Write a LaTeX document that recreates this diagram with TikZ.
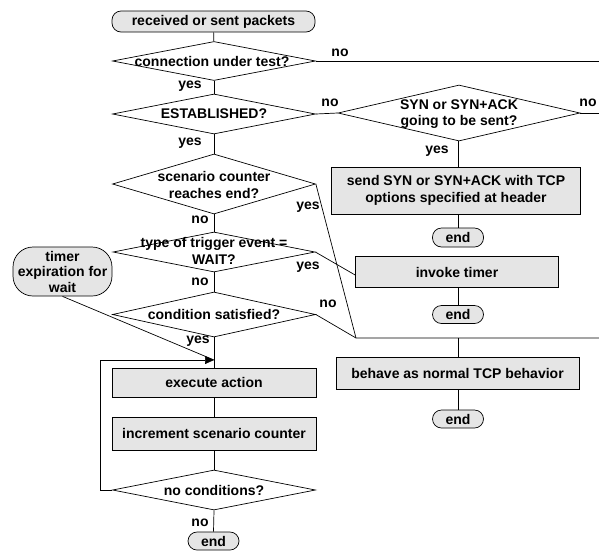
\documentclass[tikz,border=0pt]{standalone}
\usepackage{fontspec}
\setmainfont{Liberation Sans}
\usetikzlibrary{shapes.geometric,arrows.meta}
\begin{document}
\begin{tikzpicture}[x=1pt,y=-1pt,
  every node/.style={font=\fontsize{14}{16.5}\selectfont\bfseries},
  dia/.style={draw, diamond, inner sep=0pt, fill=white, line width=0.7pt},
  txt/.style={inner sep=0pt, align=center},
  box/.style={draw, fill=black!10, inner sep=0pt, align=center, line width=0.7pt},
  term/.style={draw, fill=black!10, rounded corners=9pt, inner sep=0pt, align=center, line width=0.7pt},
  lbl/.style={inner sep=0pt},
  conn/.style={line width=0.7pt}]
\useasboundingbox (0,0) rectangle (599,550);

% main column
\node[term, minimum width=203pt, minimum height=21pt] (start) at (213.5,21.5) {received or sent packets};
\node[dia, minimum width=203pt, minimum height=39pt] (d1) at (214,61) {};
\node[txt] (d1t) at (212,61) {connection under test?};
\node[dia, minimum width=203pt, minimum height=40pt] (d2) at (214,114) {};
\node[txt] (d2t) at (214,114) {ESTABLISHED?};
\node[dia, minimum width=203pt, minimum height=60pt] (d3) at (214,184) {};
\node[txt] (d3t) at (214,185) {scenario counter\\reaches end?};
\node[dia, minimum width=202pt, minimum height=40pt] (d4) at (214,252) {};
\node[txt] (d4t) at (214,251) {type of trigger event =\\WAIT?};
\node[dia, minimum width=203pt, minimum height=45pt] (d5) at (214,314.5) {};
\node[txt] (d5t) at (214,314.5) {condition satisfied?};
\node[box, minimum width=204pt, minimum height=29pt] (exec) at (214,382.5) {execute action};
\node[box, minimum width=204pt, minimum height=33pt] (incr) at (214,433.5) {increment scenario counter};
\node[dia, minimum width=203pt, minimum height=40pt] (d6) at (214,490) {};
\node[txt] (d6t) at (214,490) {no conditions?};
\node[term, minimum width=51pt, minimum height=18pt] (endm) at (213.5,541) {end};

\node[term, rounded corners=20pt, minimum width=99pt, minimum height=49pt] (timer) at (62.5,271.5) {timer\\[-1pt]expiration for\\[-1pt]wait};

% right column
\node[dia, minimum width=242pt, minimum height=56pt] (dsyn) at (459,113) {};
\node[txt] (dsynt) at (459,114) {SYN or SYN+ACK\\going to be sent?};
\node[box, minimum width=249pt, minimum height=47pt] (send) at (456,190.5) {send SYN or SYN+ACK with TCP\\options specified at header};
\node[term, minimum width=51pt, minimum height=19pt] (end1) at (458,237.5) {end};
\node[box, minimum width=203pt, minimum height=31pt] (invoke) at (457,272) {invoke timer};
\node[term, minimum width=51pt, minimum height=18pt] (end2) at (458,314.5) {end};
\node[box, minimum width=243pt, minimum height=32pt] (behave) at (457.5,373) {behave as normal TCP behavior};
\node[term, minimum width=51pt, minimum height=18pt] (end3) at (458,419) {end};

% coordinates
\coordinate (e1) at (599,61);
\coordinate (e2) at (599,113);
\coordinate (j) at (356,338);
\coordinate (e3) at (599,338);
\coordinate (jb) at (458,338);
\coordinate (lp1) at (100,490);
\coordinate (lp2) at (100,360);
\coordinate (tip) at (214,360);

% connectors main
\draw[conn] (start) -- (d1);
\draw[conn] (d1.east) -- (e1);
\draw[conn] (d1.south) -- (d2.north);
\draw[conn] (d2.east) -- (dsyn.west);
\draw[conn] (dsyn.east) -- (e2);
\draw[conn] (dsyn.south -| end1) -- (send.north -| end1);
\draw[conn] (send.south -| end1) -- (end1.north);
\draw[conn] (d2.south) -- (d3.north);
\draw[conn] (d3.south) -- (d4.north);
\draw[conn] (d4.south) -- (d5.north);
\draw[conn] (d5.south) -- (exec.north);
\draw[conn] (exec.south) -- (incr.north);
\draw[conn] (incr.south) -- (d6.north);
\draw[conn] (d6.south) -- (endm.north);
\draw[conn] (d3.east) -- (j);
\draw[conn] (d5.east) -- (j) -- (e3);
\draw[conn] (d4.east) -- ([yshift=-3pt]invoke.west);
\draw[conn] (invoke.south -| end2) -- (end2.north);
\draw[conn] (jb) -- (behave.north -| jb);
\draw[conn] (behave.south -| end3) -- (end3.north);
\draw[conn, -{Triangle[length=9pt,width=8pt]}] (d6.west) -- (lp1) -- (lp2) -- (tip);
\draw[conn] (timer.south) -- (tip);

% labels
\node[lbl] (n1) at (340,53) {no};
\node[lbl] (y1) at (190,86) {yes};
\node[lbl] (n2) at (330,103) {no};
\node[lbl] (n3) at (588,103) {no};
\node[lbl] (y2) at (437,151) {yes};
\node[lbl] (y3) at (190,143) {yes};
\node[lbl] (y4) at (308,207) {yes};
\node[lbl] (n4) at (200,220) {no};
\node[lbl] (y5) at (308,267) {yes};
\node[lbl] (n5) at (200,282) {no};
\node[lbl] (n6) at (328,304) {no};
\node[lbl] (y6) at (198,341) {yes};
\node[lbl] (n7) at (200,523) {no};
\end{tikzpicture}
\end{document}
